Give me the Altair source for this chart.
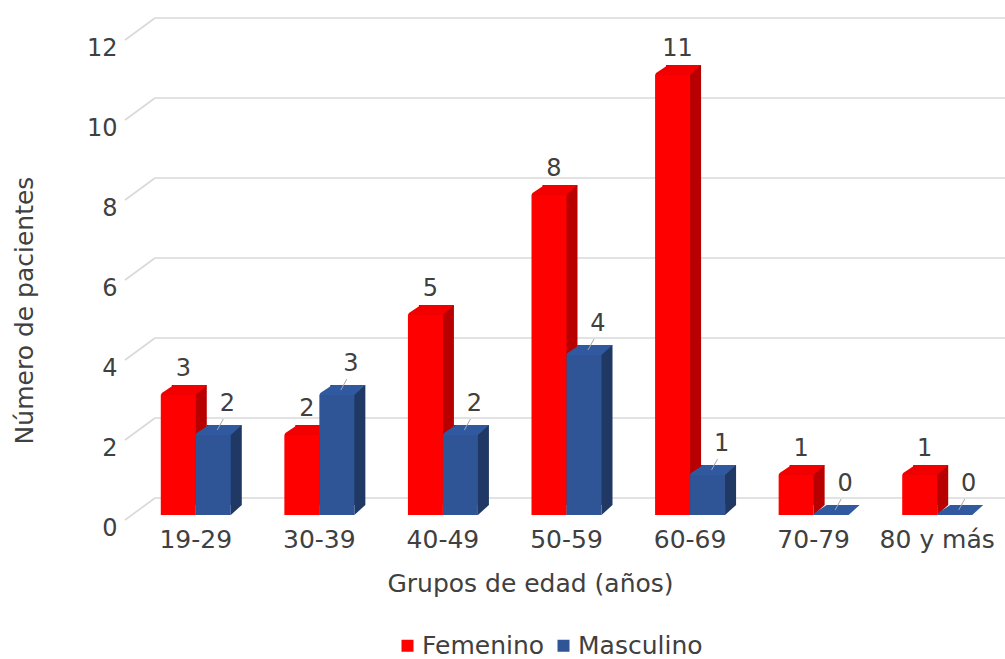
import altair as alt
import pandas as pd

# ---- data ----
grupos = ["19-29", "30-39", "40-49", "50-59", "60-69", "70-79", "80 y más"]
femenino = [3, 2, 5, 8, 11, 1, 1]
masculino = [2, 3, 2, 4, 1, 0, 0]
sexos = ["Femenino", "Masculino"]
y_ticks = [0, 2, 4, 6, 8, 10, 12]

rows = []
for g, f, m in zip(grupos, femenino, masculino):
    rows.append({"Grupo": g, "Sexo": "Femenino", "Valor": f})
    rows.append({"Grupo": g, "Sexo": "Masculino", "Valor": m})
df = pd.DataFrame(rows)
grid_df = pd.DataFrame({"v": y_ticks})

# ---- style ----
FONT = "DejaVu Sans"
TXT = "#404040"
GRID = "#d9d9d9"
W, H = 865, 480
BW = 35        # bar front width
DX, DY = 11, 10  # 3D depth
LIFT = 10      # bar plane above axis plane

COLORS = {
    "Femenino": {"front": "#ff0000", "top": "#f20000", "side": "#b80000", "off": -17.5},
    "Masculino": {"front": "#2f5597", "top": "#3059a0", "side": "#1f3864", "off": 17.5},
}

y_scale = alt.Scale(domain=[0, 12], nice=False, zero=True)
y_axis = alt.Axis(values=y_ticks, labelFontSize=24, labelFont=FONT, labelColor=TXT,
                  labelPadding=17, labelOffset=3, domain=False, ticks=False, grid=False,
                  titleFontSize=25, titleFont=FONT, titleColor=TXT, titleFontWeight="normal",
                  titleAngle=-90, titleX=-102, titleY=265, titleAlign="center",
                  titleBaseline="alphabetic")
x_axis = alt.Axis(labelAngle=0, labelFontSize=25, labelFont=FONT, labelColor=TXT,
                  labelPadding=2, domain=False, ticks=False, tickSize=0, grid=False,
                  titleFontSize=25, titleFont=FONT, titleColor=TXT, titleFontWeight="normal",
                  titleX=396, titleY=66, titleAlign="center", titleBaseline="alphabetic")

X_TITLE = "Grupos de edad (años)"
Y_TITLE = "Número de pacientes"


def xe():
    return alt.X("Grupo:N", sort=grupos, scale=alt.Scale(paddingInner=0, paddingOuter=0),
                 axis=x_axis, title=X_TITLE)


def ye(field):
    return alt.Y(field, type="quantitative", scale=y_scale, axis=y_axis, title=Y_TITLE)


# gridlines (back wall) and their slanted floor connectors
grid = alt.Chart(grid_df).mark_rule(color=GRID, strokeWidth=1.6, yOffset=-27).encode(
    x=alt.value(21), x2=alt.value(W + 10), y=ye("v"))
slant = alt.Chart(grid_df).mark_rule(color=GRID, strokeWidth=1.6, yOffset=-5, y2Offset=-27).encode(
    x=alt.value(-9), x2=alt.value(21), y=ye("v"), y2=alt.Y2("v"))

layers = [grid, slant]
base = alt.Chart(df)

top_path = f"M{-BW/2} 0 L{BW/2} 0 L{BW/2+DX} {-DY} L{-BW/2+DX+2} {-DY} L{-BW/2+1} -2 Z"
tri_path = f"M{BW/2} 0 L{BW/2+DX} {-DY} L{BW/2} {-DY} Z"

for s in sexos:
    c = COLORS[s]
    sub = base.transform_filter(alt.datum.Sexo == s)
    back = sub.mark_bar(width=BW, xOffset=c["off"] + DX, yOffset=-LIFT - DY,
                        y2Offset=-LIFT - DY, color=c["side"]).encode(x=xe(), y=ye("Valor"))
    tri = sub.transform_filter(alt.datum.Valor > 0).transform_calculate(cero="0").mark_point(
        shape=tri_path, size=4, filled=True, opacity=1, strokeWidth=0, color=c["side"],
        xOffset=c["off"], yOffset=-LIFT).encode(x=xe(), y=ye("cero"))
    front = sub.mark_bar(width=BW, xOffset=c["off"], yOffset=-LIFT, y2Offset=-LIFT).encode(
        x=xe(), y=ye("Valor"),
        color=alt.Color("Sexo:N", scale=alt.Scale(domain=sexos,
                                                  range=[COLORS[k]["front"] for k in sexos]),
                        legend=alt.Legend(title=None, orient="none", legendX=261, legendY=588,
                                          direction="horizontal", symbolType="square",
                                          symbolSize=144, symbolStrokeWidth=0,
                                          labelFontSize=25, labelFont=FONT, labelColor=TXT,
                                          labelOffset=2, columnPadding=6, padding=0)))
    top = sub.mark_point(shape=top_path, size=4, filled=True, opacity=1, strokeWidth=0,
                         color=c["top"], xOffset=c["off"], yOffset=-LIFT).encode(
        x=xe(), y=ye("Valor"))
    layers += [back, tri, front, top]

# leader lines for the blue labels
leader = base.transform_filter(alt.datum.Sexo == "Masculino").mark_point(
    shape="M4 -5 L10 -16", size=4, filled=False, opacity=1, strokeWidth=1,
    color="#a6a6a6", xOffset=17.5, yOffset=-LIFT).encode(x=xe(), y=ye("Valor"))
layers.append(leader)

lab_f = base.transform_filter(alt.datum.Sexo == "Femenino").mark_text(
    font=FONT, fontSize=24, color=TXT, baseline="middle", xOffset=-12.5,
    yOffset=-LIFT - 26).encode(x=xe(), y=ye("Valor"), text="Valor:Q")
lab_m = base.transform_filter(alt.datum.Sexo == "Masculino").mark_text(
    font=FONT, fontSize=24, color=TXT, baseline="middle", xOffset=31.5,
    yOffset=-LIFT - 31).encode(x=xe(), y=ye("Valor"), text="Valor:Q")
layers += [lab_f, lab_m]

chart = alt.layer(*layers).properties(
    width=W, height=H,
    autosize=alt.AutoSizeParams(type="none"),
    padding={"left": 134, "top": 45, "right": 6, "bottom": 134},
    background="white",
).configure_view(stroke=None)

chart.save("out.html", embed_options={"renderer": "svg", "actions": False})
